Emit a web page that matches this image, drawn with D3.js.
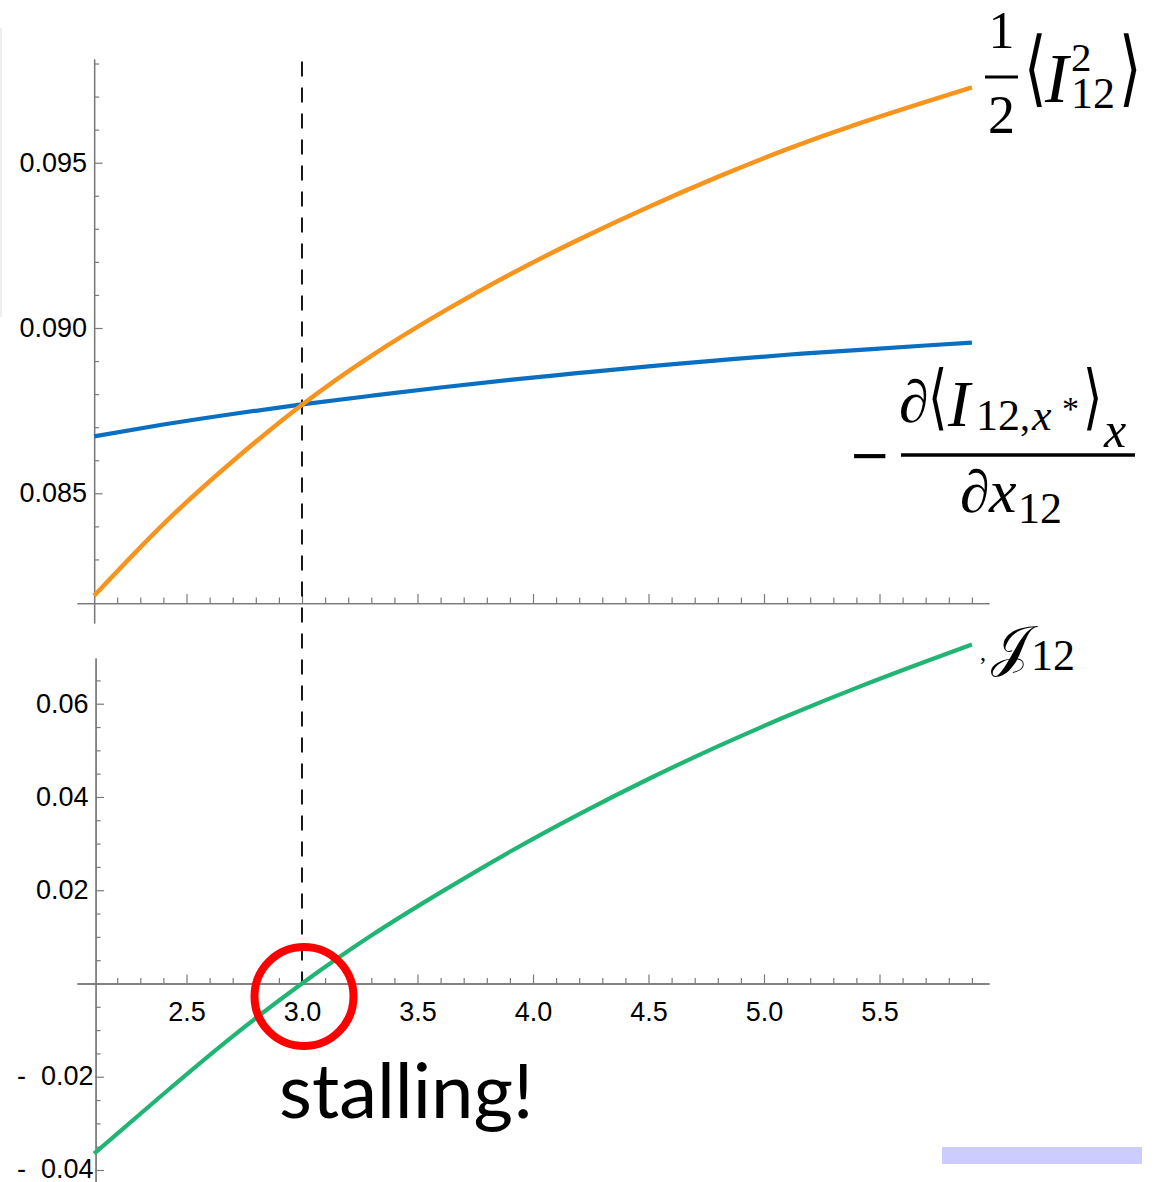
<!DOCTYPE html>
<html>
<head>
<meta charset="utf-8">
<script src="https://cdn.jsdelivr.net/npm/d3@7"></script>
<style>
  body { margin: 0; background: #fff; }
  svg { display: block; }
</style>
</head>
<body>
<div id="chart"></div>
<script>
// values
const xs = [2.1, 2.4, 2.7, 3.0, 3.3, 3.6, 3.9, 4.2, 4.5, 4.8, 5.1, 5.4, 5.7, 5.9]
const halfI2 = [0.08190, 0.08407, 0.08597, 0.08768, 0.08916, 0.09045, 0.09162, 0.09268, 0.09366, 0.09457, 0.09541, 0.09616, 0.09684, 0.09728]
const dIdx = [0.08672, 0.08708, 0.08740, 0.08769, 0.08795, 0.08820, 0.08843, 0.08864, 0.08884, 0.08902, 0.08919, 0.08933, 0.08947, 0.08956]
const J12 = [-0.03649, -0.02370, -0.01133, 0.00000, 0.01028, 0.01953, 0.02824, 0.03632, 0.04385, 0.05085, 0.05735, 0.06340, 0.06905, 0.07269]
const stallX = 3.0

const xMajor = [2.5, 3.0, 3.5, 4.0, 4.5, 5.0, 5.5]
const topMajor = [0.085, 0.090, 0.095]
const botMajor = [-0.04, -0.02, 0.02, 0.04, 0.06]

const W = 1155, H = 1182
const axisColor = '#7a7a7a'
const tickFont = 'Liberation Sans, Arial, sans-serif'
const mathFont = 'Liberation Serif, Times New Roman, serif'
const bracketFont = 'DejaVu Sans ExtraLight, DejaVu Sans'

const svg = d3.select('#chart').append('svg')
  .attr('width', W)
  .attr('height', H)
svg.append('rect').attr('width', W).attr('height', H).attr('fill', '#fff')

// faint edge left over from the slide
svg.append('rect').attr('x', 0).attr('y', 28).attr('width', 2).attr('height', 289).attr('fill', '#eeeeee')

const x = d3.scaleLinear().domain([2.1, 5.9]).range([94.1, 971.9])
const yTop = d3.scaleLinear().domain([0.085, 0.095]).range([493.3, 162.7])
const yBot = d3.scaleLinear().domain([-0.04, 0.06]).range([1170, 703.7])

// axes stick out a little past the plotted range
const xAx = d3.scaleLinear().domain([x.invert(77), x.invert(989)]).range([77, 989])
const yTopAx = d3.scaleLinear().domain([yTop.invert(623), yTop.invert(59)]).range([623, 59])
const yBotAx = d3.scaleLinear().domain([yBot.invert(1185), yBot.invert(658)]).range([1185, 658])
const topFloor = 0.08168

const xMinor = d3.range(22, 60).filter(d => d % 5 !== 0).map(d => d / 10)
const topMinor = d3.range(82, 99).filter(d => d % 5 !== 0).map(d => d / 1000)
const botMinor = d3.range(-8, 14).filter(d => d % 4 !== 0).map(d => d * 0.005)

function styleAxis(g) {
  g.attr('font-family', tickFont).attr('font-size', 27)
  g.select('.domain').attr('stroke', axisColor).attr('stroke-width', 1.3)
  g.selectAll('.tick line').attr('stroke', axisColor).attr('stroke-width', 1.2)
  g.selectAll('.tick text').attr('fill', '#000')
}

// ---- top panel axes
const gTopX = svg.append('g').attr('transform', `translate(0,${yTop(topFloor)})`)
gTopX.append('g').call(d3.axisTop(xAx).tickValues(xMinor).tickSize(5.5).tickSizeOuter(0).tickFormat('')).call(styleAxis)
gTopX.append('g').call(d3.axisTop(xAx).tickValues(xMajor).tickSize(9).tickSizeOuter(0).tickFormat('')).call(styleAxis)

const gTopY = svg.append('g').attr('transform', `translate(${x(2.1)},0)`)
gTopY.append('g').call(d3.axisLeft(yTopAx).tickValues(topMinor).tickSize(-5).tickSizeOuter(0).tickFormat('')).call(styleAxis)
gTopY.append('g').call(d3.axisLeft(yTopAx).tickValues(topMajor).tickSize(-8.5).tickSizeOuter(0)
  .tickPadding(7).tickFormat(d3.format('.3f'))).call(styleAxis)

// ---- bottom panel axes
const gBotX = svg.append('g').attr('transform', `translate(0,${yBot(0)})`)
gBotX.append('g').call(d3.axisTop(xAx).tickValues(xMinor).tickSize(5.5).tickSizeOuter(0).tickFormat('')).call(styleAxis)
gBotX.append('g').call(d3.axisBottom(xAx).tickValues(xMajor).tickSize(-9).tickSizeOuter(0)
  .tickPadding(18).tickFormat(d3.format('.1f'))).call(styleAxis)

const fmtBot = d => d < 0 ? '-\u00A0\u00A0' + d3.format('.2f')(-d) : d3.format('.2f')(d)
const gBotY = svg.append('g').attr('transform', `translate(${x(2.1) + 1.5},0)`)
gBotY.append('g').call(d3.axisLeft(yBotAx).tickValues(botMinor).tickSize(-5).tickSizeOuter(0).tickFormat('')).call(styleAxis)
gBotY.append('g').call(d3.axisLeft(yBotAx).tickValues(botMajor).tickSize(-8.5).tickSizeOuter(0)
  .tickPadding(7).tickFormat(fmtBot)).call(styleAxis)
  .selectAll('.tick text').filter(d => d < 0).attr('x', -2).attr('dy', '0.28em')

// ---- dashed marker at the stalling point
svg.append('line')
  .attr('x1', x(stallX)).attr('x2', x(stallX))
  .attr('y1', yTop(0.09806)).attr('y2', yBot(0))
  .attr('stroke', '#000').attr('stroke-width', 1.8)
  .attr('stroke-dasharray', '15 11')

// ---- curves
const rows = xs.map((v, i) => ({x: v, a: halfI2[i], b: dIdx[i], j: J12[i]}))
const lineTop = key => d3.line().x(d => x(d.x)).y(d => yTop(d[key])).curve(d3.curveNatural)
const lineBot = d3.line().x(d => x(d.x)).y(d => yBot(d.j)).curve(d3.curveNatural)

svg.append('path').datum(rows).attr('d', lineTop('b'))
  .attr('fill', 'none').attr('stroke', '#0b6fc1').attr('stroke-width', 4.2)
svg.append('path').datum(rows).attr('d', lineTop('a'))
  .attr('fill', 'none').attr('stroke', '#f7941e').attr('stroke-width', 4.5)
svg.append('path').datum(rows).attr('d', lineBot)
  .attr('fill', 'none').attr('stroke', '#21b573').attr('stroke-width', 4.2)

// ---- red circle and note
svg.append('circle')
  .attr('cx', x(stallX) + 2).attr('cy', yBot(0) + 13).attr('r', 49.5)
  .attr('fill', 'none').attr('stroke', '#ff0000').attr('stroke-width', 8)

svg.append('text').attr('x', 279).attr('y', 1118)
  .attr('font-family', 'Lato, Open Sans, sans-serif').attr('font-size', 76)
  .text('stalling!')

// ---- math labels
function put(t, px, py, size, opts = {}) {
  const el = svg.append('text')
    .attr('font-family', opts.family || mathFont)
    .attr('font-size', size)
    .attr('font-style', opts.italic ? 'italic' : 'normal')
    .attr('text-anchor', opts.anchor || 'start')
    .text(t)
  if (opts.sx) el.attr('transform', `translate(${px},${py}) scale(${opts.sx},${opts.sy || 1})`)
  else el.attr('x', px).attr('y', py)
  return el
}
function bar(x1, x2, py, w) {
  svg.append('line').attr('x1', x1).attr('x2', x2).attr('y1', py).attr('y2', py)
    .attr('stroke', '#000').attr('stroke-width', w)
}

// 1/2 <I_12^2>
put('1', 1001.5, 48, 52, {anchor: 'middle'})
bar(985, 1018, 77, 3)
put('2', 1001.5, 133, 54, {anchor: 'middle'})
put('\u27E8', 1024, 96, 72, {family: bracketFont, sx: 0.8, sy: 1.15})
put('I', 1045, 102, 70, {italic: true})
put('2', 1071, 71, 41)
put('12', 1071, 108, 44)
put('\u27E9', 1119, 96, 72, {family: bracketFont, sx: 0.8, sy: 1.15})

// - d<I_12,x*>_x / dx_12
put('\u2212', 849, 472, 50, {family: 'DejaVu Sans'})
bar(901, 1135, 455, 3.5)
put('\u2202', 899, 422, 60, {italic: true})
put('\u27E8', 928, 421, 62, {family: bracketFont, sx: 0.8, sy: 1.15})
put('I', 948, 426, 66, {italic: true})
put('12', 976, 430, 44)
put(',', 1020, 430, 40)
put('x', 1032, 430, 44, {italic: true})
put('*', 1062, 420, 34)
put('\u27E9', 1083, 421, 62, {family: bracketFont, sx: 0.8, sy: 1.15})
put('x', 1104, 447, 50, {italic: true})
put('\u2202', 960, 512, 60, {italic: true})
put('x', 989, 512, 62, {italic: true})
put('12', 1018, 523, 44)

// J_12
put(',', 980, 660, 24)
put('\uD835\uDCA5', 991, 665, 56)
put('12', 1031, 670, 44)

// stray highlight bar at the bottom right
svg.append('rect').attr('x', 942).attr('y', 1147).attr('width', 200).attr('height', 17).attr('fill', '#ccccff')
</script>
</body>
</html>
